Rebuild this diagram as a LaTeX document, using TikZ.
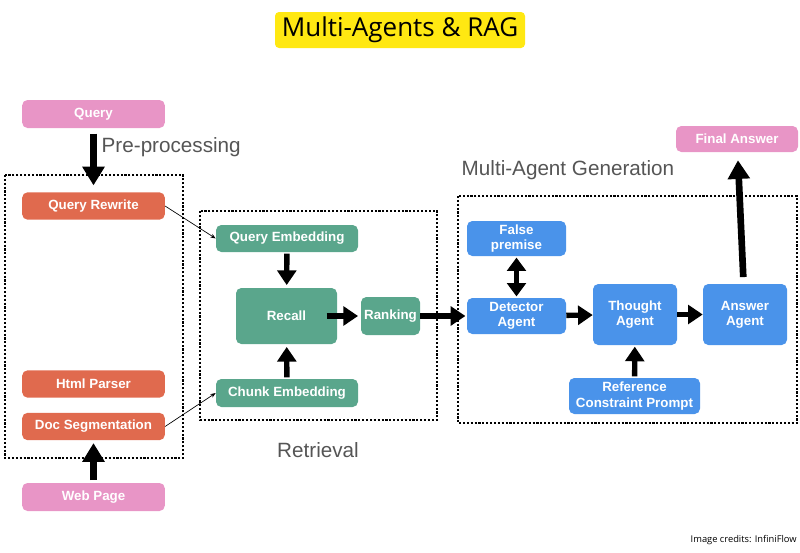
\documentclass[tikz,border=0pt]{standalone}
\usepackage{fontspec}
\setmainfont{Liberation Sans}
\newfontfamily\canvafont{Open Sans}
\usetikzlibrary{arrows.meta,positioning}

\definecolor{querypink}{HTML}{E895C6}
\definecolor{prepred}{HTML}{E06A4E}
\definecolor{retgreen}{HTML}{5AA68C}
\definecolor{agentblue}{HTML}{4A93EA}
\definecolor{titleyellow}{HTML}{FFE812}
\definecolor{labelgray}{HTML}{555555}

\tikzset{
  box/.style={rounded corners=4pt, text=white, align=center, inner sep=0pt,
    font=\bfseries\fontsize{10}{11.5}\selectfont},
  pinkbox/.style={box, fill=querypink, minimum width=107pt, minimum height=21pt},
  prepbox/.style={box, fill=prepred, minimum width=107pt, minimum height=20.5pt},
  retbox/.style={box, fill=retgreen},
  agentbox/.style={box, fill=agentblue},
  group/.style={draw, line width=0.8pt, dash pattern=on 1.6pt off 1.3pt},
  stage/.style={text=labelgray, font=\fontsize{15.5}{18}\selectfont},
  bigarrow/.style={line width=5pt, -{Triangle[length=14pt,width=16pt]}},
  midarrow/.style={line width=4pt, -{Triangle[length=11pt,width=14pt]}},
  thinarrow/.style={line width=0.5pt, -{Stealth[length=4pt]}}
}

\begin{document}
\begin{tikzpicture}[x=0.75pt,y=-0.75pt]
\useasboundingbox (0,0) rectangle (800,553);

% title
\node[fill=titleyellow, rounded corners=3pt, minimum width=187.5pt, minimum height=27pt,
  font=\canvafont\fontsize{19.5}{21}\selectfont] (title) at (400,30) {Multi-Agents \& RAG};

% pre-processing
\draw[group] (5,175) rectangle (183,458);
\node[pinkbox] (query) at (93.5,114) {Query};
\node[prepbox] (rewrite) at (93.5,206) {Query Rewrite};
\node[prepbox] (parser) at (93.5,384) {Html Parser};
\node[prepbox] (segment) at (93.5,426.5) {Doc Segmentation};
\node[pinkbox] (webpage) at (93.5,497) {Web Page};
\node[stage, anchor=west] (prelabel) at (97,147) {Pre-processing};

% retrieval
\draw[group] (200,211) rectangle (437,420);
\node[retbox, minimum width=106.5pt, minimum height=20.25pt] (qembed) at (287,238.5) {Query Embedding};
\node[retbox, minimum width=75.75pt, minimum height=42pt] (recall) at (286.5,316) {Recall};
\node[retbox, minimum width=106.5pt, minimum height=21pt] (cembed) at (287,393) {Chunk Embedding};
\node[retbox, minimum width=44.25pt, minimum height=28.5pt] (ranking) at (390.5,316) {Ranking};
\node[stage] (retlabel) at (318,450) {Retrieval};

% multi-agent generation
\draw[group] (458,196) rectangle (797,423);
\node[agentbox, minimum width=74.25pt, minimum height=26.25pt] (premise) at (516.5,238.5) {False\\premise};
\node[agentbox, minimum width=74.25pt, minimum height=27pt] (detector) at (516.5,316) {Detector\\Agent};
\node[agentbox, minimum width=63pt, minimum height=45.75pt] (thought) at (635,314.5) {Thought\\Agent};
\node[agentbox, minimum width=63pt, minimum height=45.75pt] (answer) at (745,314.5) {Answer\\Agent};
\node[agentbox, minimum width=98.25pt, minimum height=27pt] (reference) at (634.5,396) {Reference\\Constraint Prompt};
\node[pinkbox, minimum width=91.5pt, minimum height=19.5pt] (final) at (737,139) {Final Answer};
\node[stage, anchor=west] (maglabel) at (457,170) {Multi-Agent Generation};

\node[anchor=west, font=\canvafont\fontsize{7}{8}\selectfont] (credits) at (686,540) {Image credits: InfiniFlow};

% connectors
\draw[bigarrow, shorten <=4pt, shorten >=5pt] (query) -- (rewrite);
\draw[bigarrow, shorten <=2pt, shorten >=2pt] (webpage) -- (segment);
\draw[thinarrow] (rewrite.east) -- (qembed.west);
\draw[thinarrow] (segment.east) -- (cembed.west);
\draw[midarrow, shorten <=1pt, shorten >=2pt] (qembed) -- (recall);
\draw[midarrow, shorten <=1pt, shorten >=2pt] (cembed) -- (recall);
\draw[midarrow, shorten <=-8pt, shorten >=2pt] (recall) -- (ranking);
\draw[midarrow, shorten >=1pt] (ranking) -- (detector);
\draw[midarrow, {Triangle[length=10pt,width=14pt]}-{Triangle[length=10pt,width=14pt]}, shorten <=1pt, shorten >=1pt] (premise) -- (detector);
\draw[midarrow] (detector) -- (thought);
\draw[midarrow] (thought) -- (answer);
\draw[midarrow, shorten <=1pt, shorten >=1pt] (reference) -- (thought);
\draw[bigarrow, shorten <=5pt, shorten >=6pt] (answer) -- (final);
\end{tikzpicture}
\end{document}
